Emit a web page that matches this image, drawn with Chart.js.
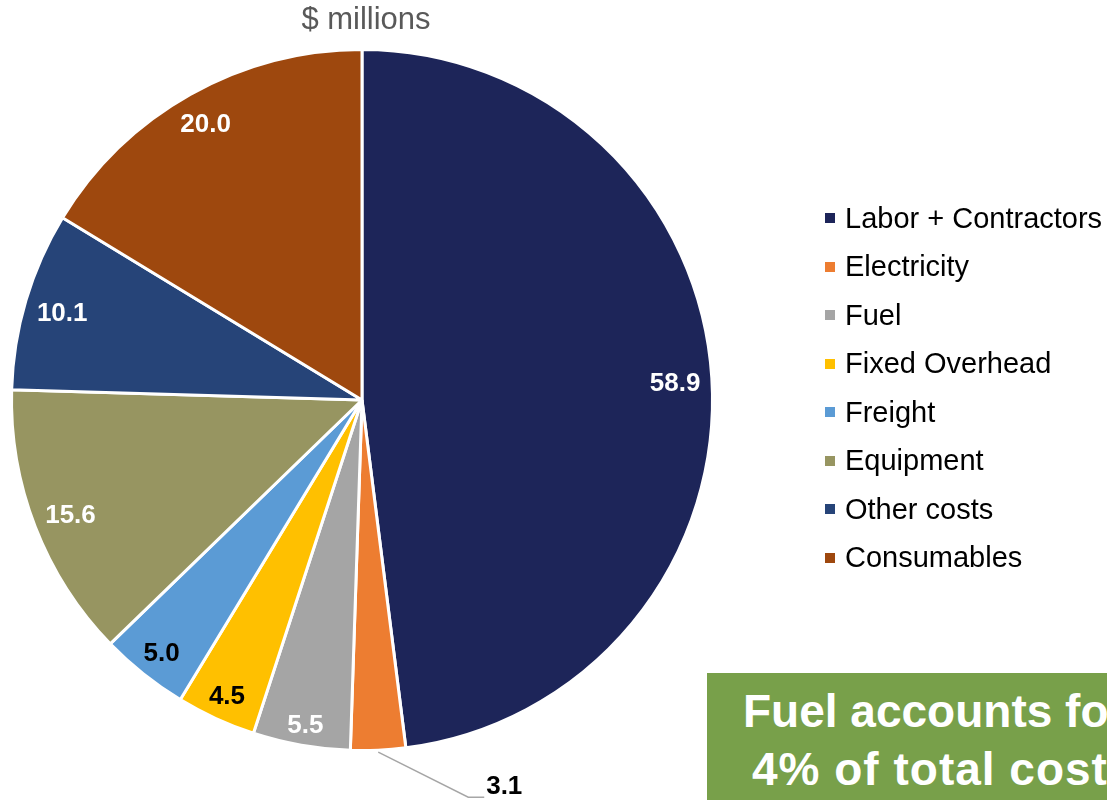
<!DOCTYPE html>
<html>
<head>
<meta charset="utf-8">
<script src="https://cdn.jsdelivr.net/npm/chart.js@4"></script>
<style>
  html, body { margin: 0; padding: 0; background: #fff; overflow: hidden; }
  body { width: 1107px; height: 800px; position: relative; font-family: "Liberation Sans", Arial, sans-serif; }
  #wrap { position: absolute; left: 0; top: 0; width: 1107px; height: 800px; }
  #title { position: absolute; left: 216px; width: 300px; top: 1px; text-align: center; font-size: 31px; color: #595959; line-height: 36px; }
  #legend { position: absolute; left: 825px; top: 194px; margin: 0; padding: 0; list-style: none; }
  #legend li { height: 48.5px; display: flex; align-items: center; font-size: 29px; color: #000; white-space: nowrap; }
  #legend .sw { width: 10px; height: 10px; margin-right: 10px; display: inline-block; }
  #note { position: absolute; left: 707px; top: 673px; width: 450px; height: 180px; background: #78A04A; color: #fff; font-weight: bold; font-size: 46px; }
  #note div { position: absolute; white-space: nowrap; line-height: 46px; }
</style>
</head>
<body>
<div id="wrap"><canvas id="c" width="1107" height="800"></canvas></div>
<div id="title">$ millions</div>
<ul id="legend"></ul>
<div id="note"><div style="left:36px; top:15px;">Fuel accounts for</div><div style="left:45px; top:73px; letter-spacing:1px;">4% of total costs</div></div>
<script>
const categories = ["Labor + Contractors", "Electricity", "Fuel", "Fixed Overhead", "Freight", "Equipment", "Other costs", "Consumables"];
const values = [58.9, 3.1, 5.5, 4.5, 5.0, 15.6, 10.1, 20.0];
const valueLabels = ["58.9", "3.1", "5.5", "4.5", "5.0", "15.6", "10.1", "20.0"];

const sliceColors = ["#1D2559", "#ED7D31", "#A5A5A5", "#FFC000", "#5B9BD5", "#979561", "#264478", "#9E480E"];
const labelColors = ["#FFFFFF", "#000000", "#FFFFFF", "#000000", "#000000", "#FFFFFF", "#FFFFFF", "#FFFFFF"];

// HTML legend
const legend = document.getElementById('legend');
categories.forEach((name, i) => {
  const li = document.createElement('li');
  const sw = document.createElement('span');
  sw.className = 'sw';
  sw.style.background = sliceColors[i];
  li.appendChild(sw);
  li.appendChild(document.createTextNode(name));
  legend.appendChild(li);
});

const labelPlugin = {
  id: 'sliceLabels',
  afterDatasetsDraw(chart) {
    const ctx = chart.ctx;
    const meta = chart.getDatasetMeta(0);
    ctx.save();
    ctx.font = 'bold 26px "Liberation Sans", Arial, sans-serif';
    ctx.textAlign = 'center';
    ctx.textBaseline = 'middle';
    meta.data.forEach((arc, i) => {
      const p = arc.getProps(['x', 'y', 'startAngle', 'endAngle', 'outerRadius'], true);
      const mid = (p.startAngle + p.endAngle) / 2;
      const span = p.endAngle - p.startAngle;
      const cx = Math.cos(mid), cy = Math.sin(mid);
      if (span < 0.2) {
        const sx = p.x + cx * (p.outerRadius + 2);
        const sy = p.y + cy * (p.outerRadius + 2);
        ctx.strokeStyle = '#A6A6A6';
        ctx.lineWidth = 1.5;
        ctx.beginPath();
        ctx.moveTo(sx, sy);
        ctx.lineTo(sx + 90, sy + 45);
        ctx.lineTo(sx + 106, sy + 45);
        ctx.stroke();
        ctx.fillStyle = labelColors[i];
        ctx.fillText(valueLabels[i], sx + 126, sy + 35);
      } else {
        const halfW = ctx.measureText(valueLabels[i]).width / 2;
        const halfH = 9;
        const r = p.outerRadius - 11 - (Math.abs(cx) * halfW + Math.abs(cy) * halfH);
        ctx.fillStyle = labelColors[i];
        ctx.fillText(valueLabels[i], p.x + cx * r, p.y + cy * r + 3);
      }
    });
    ctx.restore();
  }
};

new Chart(document.getElementById('c'), {
  type: 'pie',
  data: {
    labels: categories,
    datasets: [{
      data: values,
      backgroundColor: sliceColors,
      borderColor: '#FFFFFF',
      borderWidth: 3
    }]
  },
  options: {
    responsive: false,
    animation: false,
    layout: { padding: { left: 10, right: 393, top: 48, bottom: 48 } },
    plugins: {
      legend: { display: false },
      tooltip: { enabled: false },
      title: { display: false }
    }
  },
  plugins: [labelPlugin]
});
</script>
</body>
</html>
